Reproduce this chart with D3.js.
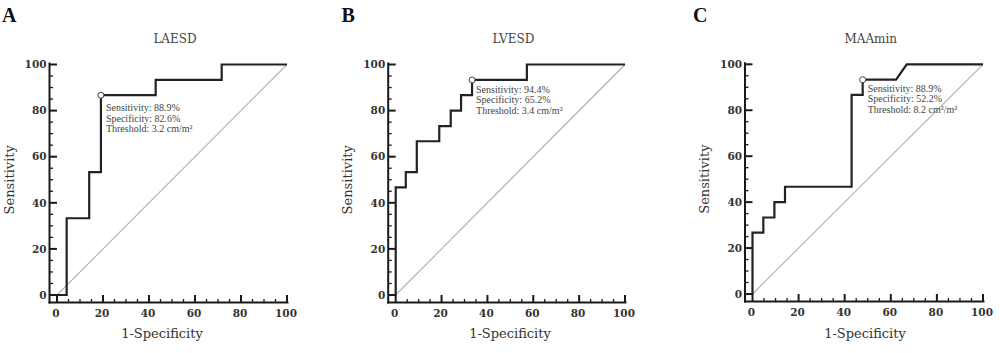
<!DOCTYPE html>
<html>
<head>
<meta charset="utf-8">
<script src="https://cdn.jsdelivr.net/npm/d3@7"></script>
<style>
  html, body { margin: 0; padding: 0; background: #fff; }
  svg { display: block; }
</style>
</head>
<body>
<svg id="chart" width="1000" height="353"></svg>
<script>
// ---- data ----
const panelLetters = ["A", "B", "C"];
const panelTitles = ["LAESD", "LVESD", "MAAmin"];
const tickValues = [0, 20, 40, 60, 80, 100];
const minorTickValues = d3.range(0, 101, 5);

// ROC curve vertices: 1-specificity (%) and sensitivity (%)
const fprA = [0, 4.2, 4.2, 14, 14, 19.1, 19.1, 42.9, 42.9, 71.6, 71.6, 100];
const tprA = [0, 0, 33.3, 33.3, 53.3, 53.3, 86.7, 86.7, 93.3, 93.3, 100, 100];

const fprB = [0, 0, 4.4, 4.4, 9.2, 9.2, 19, 19, 24, 24, 28.5, 28.5, 33.3, 33.3, 57.2, 57.2, 100];
const tprB = [0, 46.7, 46.7, 53.3, 53.3, 66.7, 66.7, 73.3, 73.3, 80, 80, 86.7, 86.7, 93.3, 93.3, 100, 100];

const fprC = [0, 0, 4.7, 4.7, 9.5, 9.5, 14.1, 14.1, 43, 43, 47.8, 47.8, 62.3, 66.9, 100];
const tprC = [0, 26.7, 26.7, 33.3, 33.3, 40, 40, 46.7, 46.7, 86.7, 86.7, 93.3, 93.3, 100, 100];

// optimal cut-off points
const cutFpr = [19.1, 33.3, 47.8];
const cutTpr = [86.7, 93.3, 93.3];

const annotations = [
  ["Sensitivity: 88.9%", "Specificity: 82.6%", "Threshold: 3.2 cm/m²"],
  ["Sensitivity: 94.4%", "Specificity: 65.2%", "Threshold: 3.4 cm/m²"],
  ["Sensitivity: 88.9%", "Specificity: 52.2%", "Threshold: 8.2 cm²/m²"]
];

const fprs = [fprA, fprB, fprC];
const tprs = [tprA, tprB, tprC];

// ---- layout ----
const layout = [
  { x0: 57,    x1: 287,  y0: 295, y1: 64.5, letterX: 2,     xLabelX: 162, annDx: 5, annDy: 16 },
  { x0: 395.7, x1: 625,  y0: 295, y1: 64.5, letterX: 341.5, xLabelX: 510, annDx: 4, annDy: 13 },
  { x0: 752.5, x1: 983,  y0: 294, y1: 64.3, letterX: 693,   xLabelX: 865, annDx: 5, annDy: 12 }
];
const offset = 7.5;
const axisColor = "#1a1a1a";
const textColor = "#333";

const svg = d3.select("#chart");

layout.forEach((L, i) => {
  const x = d3.scaleLinear().domain([0, 100]).range([L.x0, L.x1]);
  const y = d3.scaleLinear().domain([0, 100]).range([L.y0, L.y1]);
  const g = svg.append("g");
  const spineX = L.x0 - offset;
  const spineY = L.y0 + offset;

  // diagonal reference line
  g.append("line")
    .attr("x1", x(0)).attr("y1", y(0))
    .attr("x2", x(100)).attr("y2", y(100))
    .attr("stroke", "#b0b0b0").attr("stroke-width", 1.1);

  // y axis (ticks pointing inward)
  const yAxis = g.append("g").attr("transform", `translate(${spineX},0)`);
  yAxis.append("line")
    .attr("x1", 0).attr("x2", 0)
    .attr("y1", y(100) - 2).attr("y2", spineY + 1)
    .attr("stroke", axisColor).attr("stroke-width", 2);
  yAxis.selectAll(".minor").data(minorTickValues).join("line")
    .attr("x1", 0).attr("x2", d => d % 20 === 0 ? offset : 3.5)
    .attr("y1", d => y(d)).attr("y2", d => y(d))
    .attr("stroke", axisColor).attr("stroke-width", d => d % 20 === 0 ? 2 : 1.3);
  yAxis.selectAll(".lbl").data(tickValues).join("text")
    .attr("x", -3).attr("y", d => y(d))
    .attr("dy", "0.36em")
    .attr("text-anchor", "end")
    .attr("font-family", "DejaVu Serif")
    .attr("font-weight", "bold")
    .attr("font-size", 10.5)
    .attr("fill", textColor)
    .text(d => d);

  // x axis (ticks pointing inward)
  const xAxis = g.append("g").attr("transform", `translate(0,${spineY})`);
  xAxis.append("line")
    .attr("x1", spineX - 1).attr("x2", x(100) + 1.5)
    .attr("y1", 0).attr("y2", 0)
    .attr("stroke", axisColor).attr("stroke-width", 2);
  xAxis.selectAll(".minor").data(minorTickValues).join("line")
    .attr("x1", d => x(d)).attr("x2", d => x(d))
    .attr("y1", 0).attr("y2", d => d % 20 === 0 ? -offset : -3.5)
    .attr("stroke", axisColor).attr("stroke-width", d => d % 20 === 0 ? 2 : 1.3);
  xAxis.selectAll(".lbl").data(tickValues).join("text")
    .attr("x", d => x(d) - 1).attr("y", 14)
    .attr("text-anchor", "middle")
    .attr("font-family", "DejaVu Serif")
    .attr("font-weight", "bold")
    .attr("font-size", 10.5)
    .attr("fill", textColor)
    .text(d => d);

  // ROC curve
  const pts = fprs[i].map((v, k) => [v, tprs[i][k]]);
  const line = d3.line().x(d => x(d[0])).y(d => y(d[1]));
  g.append("path")
    .attr("d", line(pts))
    .attr("fill", "none")
    .attr("stroke", "#222")
    .attr("stroke-width", 2.2)
    .attr("stroke-linejoin", "miter");

  // cut-off marker
  const cx = x(cutFpr[i]), cy = y(cutTpr[i]);
  g.append("circle")
    .attr("cx", cx).attr("cy", cy).attr("r", 3)
    .attr("fill", "#fff").attr("stroke", "#444").attr("stroke-width", 1);

  // annotation
  const ann = g.append("text")
    .attr("font-family", "Liberation Serif")
    .attr("font-size", 10)
    .attr("fill", "#444");
  annotations[i].forEach((t, k) => {
    ann.append("tspan")
      .attr("x", cx + L.annDx)
      .attr("y", cy + L.annDy + k * 10.5)
      .text(t);
  });

  // panel letter
  svg.append("text")
    .attr("x", L.letterX).attr("y", 22)
    .attr("font-family", "Liberation Serif")
    .attr("font-weight", "bold")
    .attr("font-size", 20)
    .attr("fill", "#111")
    .text(panelLetters[i]);

  // title
  svg.append("text")
    .attr("x", (L.x0 + L.x1) / 2 + 3).attr("y", 43)
    .attr("text-anchor", "middle")
    .attr("font-family", "DejaVu Serif")
    .attr("font-size", 12)
    .attr("fill", "#444")
    .text(panelTitles[i]);

  // y label
  svg.append("text")
    .attr("transform", `translate(${spineX - 36},${(L.y0 + L.y1) / 2}) rotate(-90)`)
    .attr("text-anchor", "middle")
    .attr("font-family", "DejaVu Serif")
    .attr("font-size", 13)
    .attr("fill", textColor)
    .text("Sensitivity");

  // x label
  svg.append("text")
    .attr("x", L.xLabelX).attr("y", 338)
    .attr("text-anchor", "middle")
    .attr("font-family", "DejaVu Serif")
    .attr("font-size", 13)
    .attr("fill", textColor)
    .text("1-Specificity");
});
</script>
</body>
</html>
